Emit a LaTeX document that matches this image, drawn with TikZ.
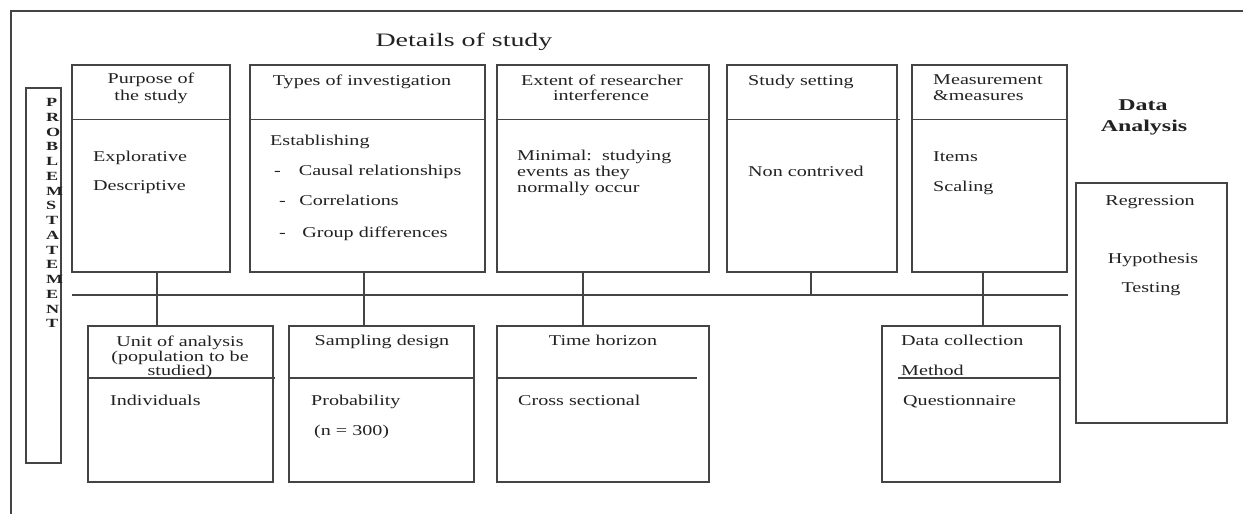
\documentclass[tikz,border=0pt]{standalone}
\usepackage{fontspec}
\setmainfont{Liberation Serif}
\newfontfamily\bodyf[FakeStretch=1.34]{Liberation Serif}
\newfontfamily\titlef[FakeStretch=1.47]{Liberation Serif}
\newfontfamily\boldf[FakeStretch=1.45]{Liberation Serif}
\definecolor{linec}{HTML}{444444}
\definecolor{textc}{HTML}{222222}
\tikzset{
 box/.style={draw=linec, line width=1.1pt, rectangle, inner sep=0pt, outer sep=0pt, anchor=north west},
 ln/.style={draw=linec, line width=1.1pt},
 txt/.style={inner sep=0pt, text=textc, font=\bodyf\fontsize{15}{16}\selectfont},
 tl/.style={txt, anchor=base west},
 tc/.style={txt, anchor=base},
 bld/.style={inner sep=0pt, text=textc, anchor=base, font=\boldf\bfseries\fontsize{16.5}{18}\selectfont},
 psl/.style={inner sep=0pt, text=textc, anchor=base west, font=\boldf\bfseries\fontsize{12.5}{14}\selectfont},
 ttl/.style={inner sep=0pt, text=textc, anchor=base, font=\titlef\fontsize{19}{22}\selectfont},
}
\begin{document}
\begin{tikzpicture}[x=1pt,y=-1pt]
\useasboundingbox (0,0) rectangle (1243,514);
% frame
\coordinate (fBL) at (11,514);
\coordinate (fTL) at (11,11);
\coordinate (fTR) at (1243,11);
\draw[ln] (fBL) -- (fTL) -- (fTR);
\node[ttl] (title) at (464,46) {Details of study};
% problem statement
\node[box, minimum width=35pt, minimum height=375pt] (prob) at (26,88) {};
\foreach \l [count=\i] in {P,R,O,B,L,E,M,S,T,A,T,E,M,E,N,T}
  \node[psl] (ps\i) at (46,{106.7+14.75*(\i-1)}) {\l};
% divider levels
\coordinate (topdiv) at (0,119.5);
\coordinate (botdiv) at (0,378);
% top row boxes
\node[box, minimum width=158pt, minimum height=207pt] (purpose) at (72,65) {};
\node[box, minimum width=235pt, minimum height=207pt] (types) at (250,65) {};
\node[box, minimum width=212pt, minimum height=207pt] (extent) at (497,65) {};
\node[box, minimum width=170pt, minimum height=207pt] (setting) at (727,65) {};
\node[box, minimum width=155pt, minimum height=207pt] (measure) at (912,65) {};
\draw[ln] (purpose.west |- topdiv) -- (purpose.east |- topdiv);
\draw[ln] (types.west |- topdiv) -- (types.east |- topdiv);
\draw[ln] (extent.west |- topdiv) -- (extent.east |- topdiv);
\draw[ln] (setting.west |- topdiv) -- ([xshift=3pt]setting.east |- topdiv);
\draw[ln] (measure.west |- topdiv) -- (measure.east |- topdiv);
% bottom row boxes
\node[box, minimum width=185pt, minimum height=156pt] (unit) at (88,326) {};
\node[box, minimum width=185pt, minimum height=156pt] (sampling) at (289,326) {};
\node[box, minimum width=212pt, minimum height=156pt] (timeh) at (497,326) {};
\node[box, minimum width=178pt, minimum height=156pt] (datacol) at (882,326) {};
\draw[ln] (unit.west |- botdiv) -- ([xshift=2pt]unit.east |- botdiv);
\draw[ln] (sampling.west |- botdiv) -- (sampling.east |- botdiv);
\draw[ln] (timeh.west |- botdiv) -- ([xshift=-12pt]timeh.east |- botdiv);
\draw[ln] ([xshift=16pt]datacol.west |- botdiv) -- (datacol.east |- botdiv);
% regression box
\node[box, minimum width=151pt, minimum height=240pt] (regr) at (1076,183) {};
% bus and connectors
\coordinate (busL) at (72,295);
\coordinate (busR) at (1068,295);
\draw[ln] (busL) -- (busR);
\coordinate (c1) at (157,0);
\coordinate (c2) at (364,0);
\coordinate (c3) at (583,0);
\coordinate (c4) at (811,0);
\coordinate (c5) at (983,0);
\draw[ln] (purpose.south -| c1) -- (unit.north -| c1);
\draw[ln] (types.south -| c2) -- (sampling.north -| c2);
\draw[ln] (extent.south -| c3) -- (timeh.north -| c3);
\draw[ln] (setting.south -| c4) -- (c4 |- busL);
\draw[ln] (measure.south -| c5) -- (datacol.north -| c5);
% top row texts
\node[tc] (pu1) at (151,83.5) {Purpose of};
\node[tc] (pu2) at (151,100) {the study};
\node[tl] (pu3) at (93,161.7) {Explorative};
\node[tl] (pu4) at (93,190) {Descriptive};
\node[tc] (ty1) at (362,85) {Types of investigation};
\node[tl] (ty2) at (270,145.7) {Establishing};
\node[tl] (ty3) at (274,175.7) {-\hspace*{18pt}Causal relationships};
\node[tl] (ty4) at (279,205) {-\hspace*{13.5pt}Correlations};
\node[tl] (ty5) at (279,237) {-\hspace*{16.5pt}Group differences};
\node[tc] (ex1) at (602,85) {Extent of researcher};
\node[tc] (ex2) at (601,100) {interference};
\node[tl] (ex3) at (517,160.7) {Minimal:\ \ studying};
\node[tl] (ex4) at (517,176.7) {events as they};
\node[tl] (ex5) at (517,192.7) {normally occur};
\node[tl] (st1) at (748,85) {Study setting};
\node[tl] (st2) at (748,176) {Non contrived};
\node[tl] (me1) at (933,84.5) {Measurement};
\node[tl] (me2) at (933,100) {\&measures};
\node[tl] (me3) at (933,161) {Items};
\node[tl] (me4) at (933,191) {Scaling};
% data analysis
\node[bld] (da1) at (1143,110) {Data};
\node[bld] (da2) at (1144,131) {Analysis};
\node[tc] (rg1) at (1150,205) {Regression};
\node[tc] (rg2) at (1153,263) {Hypothesis};
\node[tc] (rg3) at (1151,292) {Testing};
% bottom row texts
\node[tc] (un1) at (180,346.7) {Unit of analysis};
\node[tc] (un2) at (180,361) {(population to be};
\node[tc] (un3) at (180,375.7) {studied)};
\node[tl] (un4) at (110,405) {Individuals};
\node[tc] (sa1) at (382,345) {Sampling design};
\node[tl] (sa2) at (311,405) {Probability};
\node[tl] (sa3) at (314,435) {(n = 300)};
\node[tc] (th1) at (603,345) {Time horizon};
\node[tl] (th2) at (518,405) {Cross sectional};
\node[tl] (dc1) at (901,345) {Data collection};
\node[tl] (dc2) at (901,375) {Method};
\node[tl] (dc3) at (903,405.7) {Questionnaire};
\end{tikzpicture}
\end{document}
